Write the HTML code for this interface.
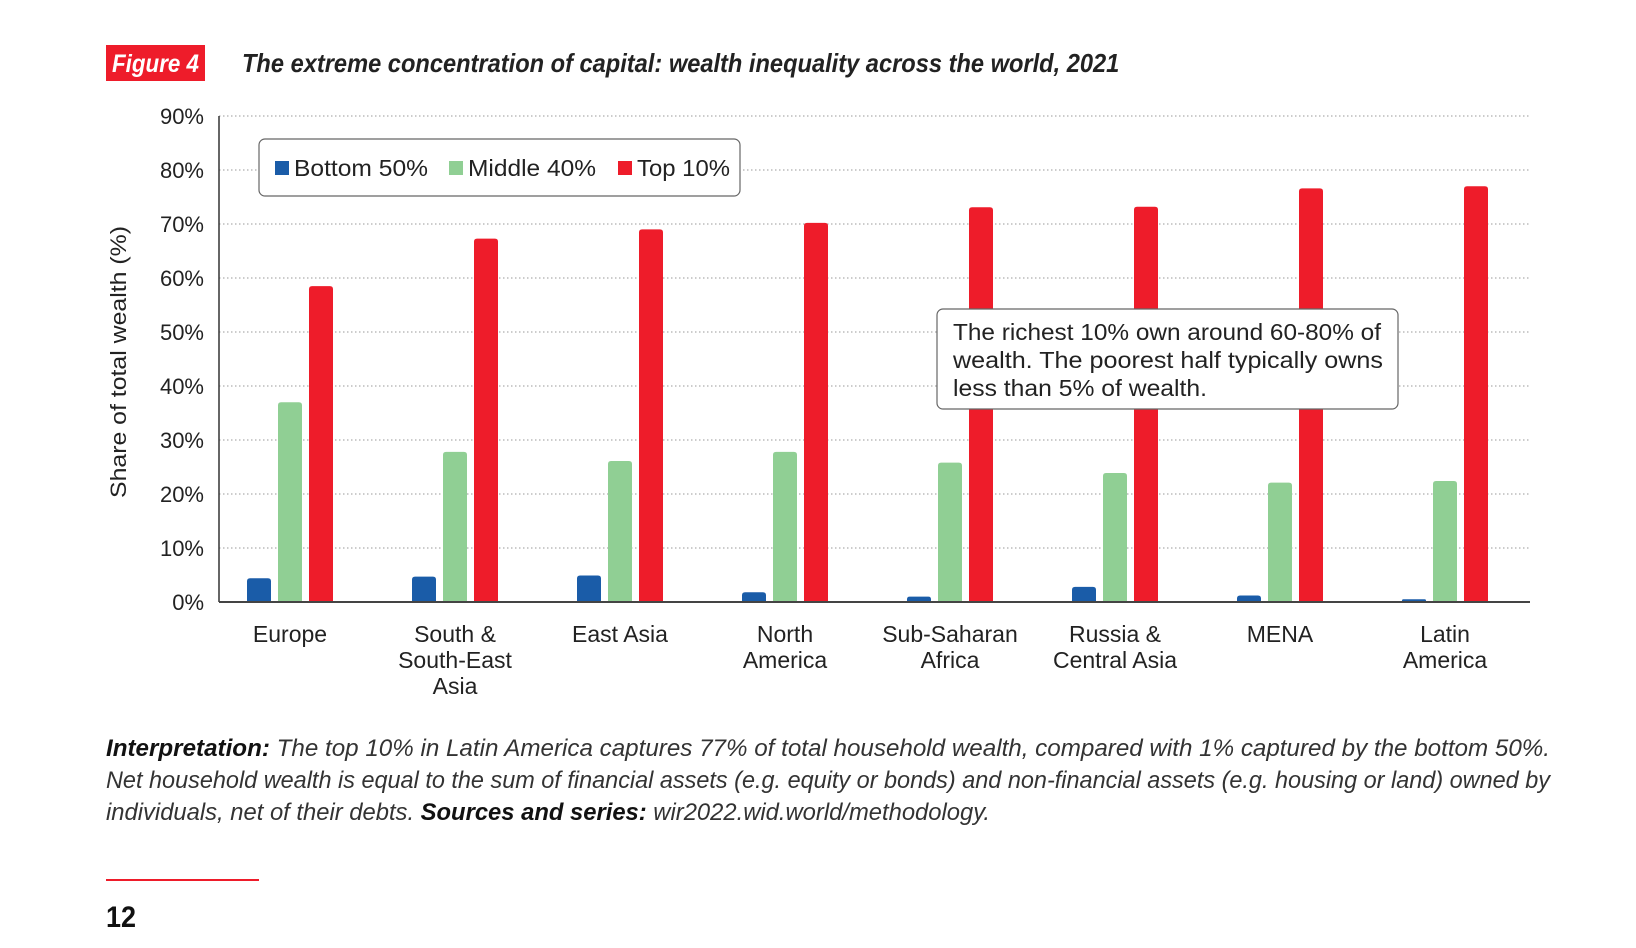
<!DOCTYPE html>
<html><head><meta charset="utf-8"><style>
html,body{margin:0;padding:0;background:#fff;}
svg{display:block;font-family:"Liberation Sans",sans-serif;}
</style></head><body>
<svg id="chart" width="1636" height="948" viewBox="0 0 1636 948">
  <rect x="106" y="45" width="99" height="36" fill="#ee1c2a"/>
  <text x="112" y="72" font-size="25" font-weight="bold" font-style="italic" fill="#fff" textLength="87" lengthAdjust="spacingAndGlyphs">Figure 4</text>
  <text x="242" y="72" font-size="26" font-weight="bold" font-style="italic" fill="#222" textLength="888" lengthAdjust="spacingAndGlyphs" transform="translate(242,0) scale(0.988,1) translate(-242,0)">The extreme concentration of capital: wealth inequality across the world, 2021</text>
  <g id="grid"></g>
  <g id="bars"></g>
  <g id="xlabels"></g>
  <line x1="219" y1="116" x2="219" y2="602" stroke="#333" stroke-width="1.5"/>
  <line x1="219" y1="602" x2="1530" y2="602" stroke="#444" stroke-width="2"/>
  <text transform="translate(126,362) rotate(-90)" text-anchor="middle" font-size="22" fill="#222" textLength="272" lengthAdjust="spacingAndGlyphs">Share of total wealth (%)</text>
  <g>
    <rect x="259" y="139" width="481" height="57" rx="6" fill="#fff" stroke="#666" stroke-width="1.2"/>
    <rect x="275" y="161" width="14" height="14" fill="#1a5ca8"/>
    <text x="294" y="176" font-size="23" fill="#222" textLength="134" lengthAdjust="spacingAndGlyphs">Bottom 50%</text>
    <rect x="449" y="161" width="14" height="14" fill="#90cf94"/>
    <text x="468" y="176" font-size="23" fill="#222" textLength="128" lengthAdjust="spacingAndGlyphs">Middle 40%</text>
    <rect x="618" y="161" width="14" height="14" fill="#ee1c2a"/>
    <text x="637" y="176" font-size="23" fill="#222" textLength="93" lengthAdjust="spacingAndGlyphs">Top 10%</text>
  </g>
  <g>
    <rect x="937" y="309" width="461" height="100" rx="6" fill="#fff" stroke="#666" stroke-width="1.2"/>
    <text x="953" y="340" font-size="23" fill="#222" textLength="428" lengthAdjust="spacingAndGlyphs">The richest 10% own around 60-80% of</text>
    <text x="953" y="368" font-size="23" fill="#222" textLength="430" lengthAdjust="spacingAndGlyphs">wealth. The poorest half typically owns</text>
    <text x="953" y="396" font-size="23" fill="#222" textLength="254" lengthAdjust="spacingAndGlyphs">less than 5% of wealth.</text>
  </g>
  <g font-size="24" font-style="italic" fill="#333">
    <text x="106" y="756" textLength="1444" lengthAdjust="spacingAndGlyphs"><tspan font-weight="bold" fill="#111">Interpretation:</tspan> The top 10% in Latin America captures 77% of total household wealth, compared with 1% captured by the bottom 50%.</text>
    <text x="106" y="788" textLength="1444" lengthAdjust="spacingAndGlyphs">Net household wealth is equal to the sum of financial assets (e.g. equity or bonds) and non-financial assets (e.g. housing or land) owned by</text>
    <text x="106" y="820" textLength="884" lengthAdjust="spacingAndGlyphs">individuals, net of their debts. <tspan font-weight="bold" fill="#111">Sources and series:</tspan> wir2022.wid.world/methodology.</text>
  </g>
  <line x1="106" y1="880" x2="259" y2="880" stroke="#ee1c2a" stroke-width="2"/>
  <text x="106" y="927" font-size="30" font-weight="bold" fill="#111" textLength="30" lengthAdjust="spacingAndGlyphs">12</text>
</svg>
<script>
const categories = [["Europe"],["South &","South-East","Asia"],["East Asia"],["North","America"],["Sub-Saharan","Africa"],["Russia &","Central Asia"],["MENA"],["Latin","America"]];
const bottom50 = [4.4, 4.7, 4.9, 1.8, 1.0, 2.8, 1.2, 0.5];
const middle40 = [37.0, 27.8, 26.1, 27.8, 25.8, 23.9, 22.1, 22.4];
const top10 = [58.5, 67.3, 69.0, 70.2, 73.1, 73.2, 76.6, 77.0];
const yTicks = [0, 10, 20, 30, 40, 50, 60, 70, 80, 90];

const NS = "http://www.w3.org/2000/svg";
const y0 = 602, pxPer = 5.4, x0 = 219, x1 = 1530;
const yScale = v => y0 - v * pxPer;
const groupCenter = i => 290 + i * 165;
const barW = 24, barPitch = 31;

const grid = document.getElementById('grid');
yTicks.forEach(t => {
  if (t > 0) {
    const l = document.createElementNS(NS, 'line');
    
    
    l.setAttribute('x1', x0); l.setAttribute('x2', x1);
    l.setAttribute('y1', yScale(t)); l.setAttribute('y2', yScale(t));
    l.setAttribute('stroke', '#999'); l.setAttribute('stroke-width', '1');
    l.setAttribute('stroke-dasharray', '1.5 2.5');
    grid.appendChild(l);
  }
  const tx = document.createElementNS(NS, 'text');
  
  
  tx.setAttribute('x', 204); tx.setAttribute('y', yScale(t) + 8);
  tx.setAttribute('text-anchor', 'end'); tx.setAttribute('font-size', '22');
  tx.setAttribute('fill', '#222');
  tx.textContent = t + '%';
  grid.appendChild(tx);
});

const bars = document.getElementById('bars');
const series = [[bottom50, '#1a5ca8', -1], [middle40, '#90cf94', 0], [top10, '#ee1c2a', 1]];
categories.forEach((c, i) => {
  series.forEach(([vals, col, off]) => {
    const v = vals[i];
    const cx = groupCenter(i) + off * barPitch;
    const top = yScale(v);
    const p = document.createElementNS(NS, 'path');
    
    
    const r = Math.min(3, (y0 - top) / 2);
    const l = cx - barW / 2, rt = cx + barW / 2;
    p.setAttribute('d', `M${l},${y0} L${l},${top + r} Q${l},${top} ${l + r},${top} L${rt - r},${top} Q${rt},${top} ${rt},${top + r} L${rt},${y0} Z`);
    p.setAttribute('fill', col);
    bars.appendChild(p);
  });
  const g = document.getElementById('xlabels');
  c.forEach((line, k) => {
    const t = document.createElementNS(NS, 'text');
    
    
    t.setAttribute('x', groupCenter(i)); t.setAttribute('y', 642 + k * 26);
    t.setAttribute('text-anchor', 'middle'); t.setAttribute('font-size', '23');
    t.setAttribute('fill', '#222');
    t.textContent = line;
    g.appendChild(t);
  });
});
</script>
</body></html>
